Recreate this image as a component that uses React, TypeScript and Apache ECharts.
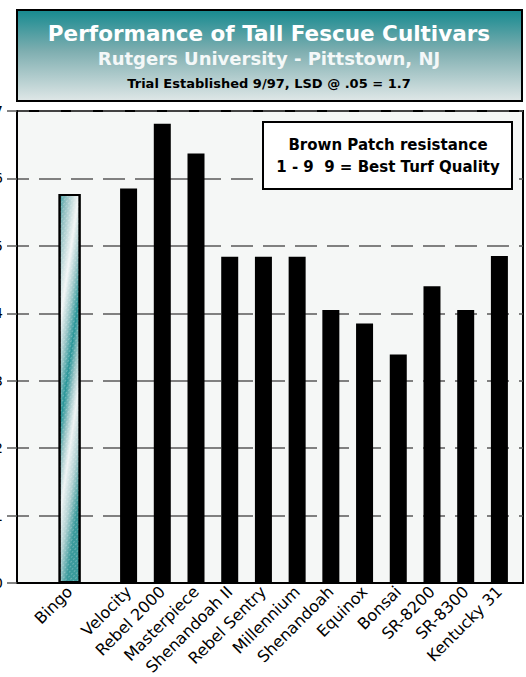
import React, { useEffect, useRef } from "react";
import * as echarts from "echarts";

const categories = [
  "Bingo",
  "Velocity",
  "Rebel 2000",
  "Masterpiece",
  "Shenandoah II",
  "Rebel Sentry",
  "Millennium",
  "Shenandoah",
  "Equinox",
  "Bonsai",
  "SR-8200",
  "SR-8300",
  "Kentucky 31",
];
const ratings = [5.77, 5.85, 6.81, 6.37, 4.84, 4.84, 4.84, 4.05, 3.85, 3.39, 4.4, 4.05, 4.85];
const yMin = 0;
const yMax = 7;
const yInterval = 1;
const titleLines = [
  "Performance of Tall Fescue Cultivars",
  "Rutgers University - Pittstown, NJ",
  "Trial Established 9/97, LSD @ .05 = 1.7",
];
const legendLines = ["Brown Patch resistance", "1 - 9  9 = Best Turf Quality"];

// slot positions on the x scale: the highlighted cultivar is set apart from the rest
const slots = categories.map((_, i) => (i === 0 ? 0 : i + 0.75));
const xMin = -1.56;
const xMax = 13.45;

const FONT = "'DejaVu Sans', Verdana, sans-serif";

export default function App() {
  const ref = useRef<HTMLDivElement>(null);
  useEffect(() => {
    if (!ref.current) return;
    const chart = echarts.init(ref.current, null, { renderer: "svg" });
    const grid = { left: 17, right: 3, top: 111, bottom: 94, containLabel: false, outerBoundsMode: "none" };
    const bingoFill = new echarts.graphic.LinearGradient(0, 0, 0.35, 1, [
      { offset: 0, color: "#3a9ea1" },
      { offset: 0.1, color: "#8cbdbf" },
      { offset: 0.24, color: "#d6e6e6" },
      { offset: 0.3, color: "#f2f6f6" },
      { offset: 0.42, color: "#a0c9ca" },
      { offset: 0.54, color: "#2a9699" },
      { offset: 0.64, color: "#9cc6c7" },
      { offset: 0.74, color: "#eef4f4" },
      { offset: 0.86, color: "#b3d2d3" },
      { offset: 1, color: "#3a9a9b" },
    ]);
    const titleFill = new echarts.graphic.LinearGradient(0, 0, 0, 1, [
      { offset: 0, color: "#168a90" },
      { offset: 0.45, color: "#7eaeb0" },
      { offset: 1, color: "#dfe7e7" },
    ]);
    const textStyle = (text: string, fill: string, fontSize: number) => ({
      text,
      fill,
      fontSize,
      fontWeight: "bold",
      fontFamily: FONT,
      textAlign: "center",
      textVerticalAlign: "middle",
    });
    chart.setOption({
      animation: false,
      backgroundColor: "#ffffff",
      grid: [
        { ...grid, show: true, backgroundColor: "#f5f7f6", borderColor: "#000", borderWidth: 2, z: 0 },
        { ...grid, show: false },
      ],
      xAxis: [
        {
          type: "value",
          gridIndex: 0,
          min: xMin,
          max: xMax,
          splitLine: { show: false },
          axisTick: { show: false },
          axisLine: { show: true, onZero: false, lineStyle: { color: "#000", width: 2 } },
          axisLabel: {
            customValues: slots,
            rotate: 45,
            margin: 6,
            fontSize: 16,
            fontFamily: FONT,
            color: "#000",
            formatter: (v: number) => {
              const i = slots.findIndex((s) => Math.abs(s - v) < 1e-6);
              return i >= 0 ? categories[i] : "";
            },
          },
        },
        {
          type: "value",
          gridIndex: 1,
          min: xMin,
          max: xMax,
          show: false,
        },
      ],
      yAxis: [
        {
          type: "value",
          gridIndex: 0,
          min: yMin,
          max: yMax,
          interval: yInterval,
          axisLine: { show: true, onZero: false, lineStyle: { color: "#000", width: 2 } },
          axisTick: { show: true, length: 10, lineStyle: { color: "#5a5a5a", width: 1.5 } },
          axisLabel: { margin: 14, fontSize: 14, fontFamily: FONT, color: "#000" },
          splitLine: {
            show: true,
            lineStyle: { color: "#5a5a5a", width: 1.5, type: [22, 10], dashOffset: 10 },
          },
        },
        {
          type: "value",
          gridIndex: 1,
          min: yMin,
          max: yMax,
          interval: yInterval,
          show: false,
          axisLine: { show: false, onZero: false },
          splitLine: { show: false },
        },
      ],
      series: [
        {
          type: "bar",
          xAxisIndex: 0,
          yAxisIndex: 0,
          barWidth: 17,
          itemStyle: { color: "#000" },
          data: slots.slice(1).map((s, i) => [s, ratings[i + 1]]),
          z: 3,
        },
        {
          type: "bar",
          xAxisIndex: 1,
          yAxisIndex: 1,
          barWidth: 22,
          itemStyle: {
            color: bingoFill,
            borderColor: "#000",
            borderWidth: 2,
            decal: {
              symbol: "rect",
              symbolSize: 1,
              dashArrayX: [[2, 2]],
              dashArrayY: [1, 2],
              rotation: -Math.PI / 4,
              color: "rgba(255,255,255,0.25)",
            },
          },
          data: [[slots[0], ratings[0]]],
          z: 3,
        },
      ],
      graphic: [
        {
          type: "rect",
          shape: { x: 17, y: 10, width: 505, height: 91 },
          style: { fill: titleFill, stroke: "#000", lineWidth: 2 },
          z: 10,
        },
        { type: "text", x: 269, y: 33, style: textStyle(titleLines[0], "#fff", 21.5), z: 11 },
        { type: "text", x: 269, y: 58, style: textStyle(titleLines[1], "#f4f8f8", 18), z: 11 },
        { type: "text", x: 269, y: 83, style: textStyle(titleLines[2], "#000", 13), z: 11 },
        {
          type: "rect",
          shape: { x: 263, y: 122, width: 249, height: 67 },
          style: { fill: "#fff", stroke: "#000", lineWidth: 2 },
          z: 10,
        },
        { type: "text", x: 388, y: 145, style: textStyle(legendLines[0], "#000", 15), z: 11 },
        { type: "text", x: 388, y: 167, style: textStyle(legendLines[1], "#000", 15), z: 11 },
      ],
    });
    return () => chart.dispose();
  }, []);
  return (
    <div
      ref={ref}
      style={{ position: "absolute", left: 0, top: 0, width: 526, height: 677 }}
    />
  );
}
